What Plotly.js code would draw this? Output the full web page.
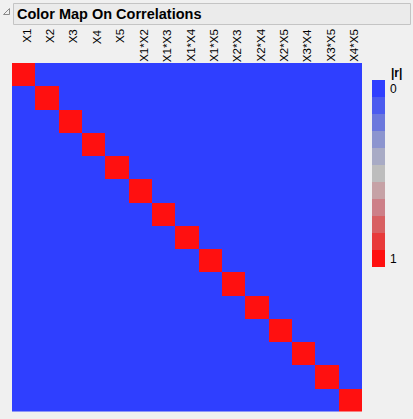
<!DOCTYPE html>
<html>
<head>
<meta charset="utf-8">
<script src="https://cdn.plot.ly/plotly-3.0.1.min.js"></script>
<style>
html,body{margin:0;padding:0;background:#F0F0F0;}
#chart{width:413px;height:419px;}
</style>
</head>
<body>
<div id="chart"></div>
<script>
// Terms (columns / rows of the correlation map)
const terms = ["X1","X2","X3","X4","X5","X1*X2","X1*X3","X1*X4","X1*X5","X2*X3","X2*X4","X2*X5","X3*X4","X3*X5","X4*X5"];

// |r| matrix (diagonal = 1, everything else ~0)
const absR = [
  [1,0,0,0,0,0,0,0,0,0,0,0,0,0,0],
  [0,1,0,0,0,0,0,0,0,0,0,0,0,0,0],
  [0,0,1,0,0,0,0,0,0,0,0,0,0,0,0],
  [0,0,0,1,0,0,0,0,0,0,0,0,0,0,0],
  [0,0,0,0,1,0,0,0,0,0,0,0,0,0,0],
  [0,0,0,0,0,1,0,0,0,0,0,0,0,0,0],
  [0,0,0,0,0,0,1,0,0,0,0,0,0,0,0],
  [0,0,0,0,0,0,0,1,0,0,0,0,0,0,0],
  [0,0,0,0,0,0,0,0,1,0,0,0,0,0,0],
  [0,0,0,0,0,0,0,0,0,1,0,0,0,0,0],
  [0,0,0,0,0,0,0,0,0,0,1,0,0,0,0],
  [0,0,0,0,0,0,0,0,0,0,0,1,0,0,0],
  [0,0,0,0,0,0,0,0,0,0,0,0,1,0,0],
  [0,0,0,0,0,0,0,0,0,0,0,0,0,1,0],
  [0,0,0,0,0,0,0,0,0,0,0,0,0,0,1]
];

// Legend levels and their colours
const legendLevels = [0,0.1,0.2,0.3,0.4,0.5,0.6,0.7,0.8,0.9,1];
const legendColors = ["#2F3FFF","#4B5BEF","#6B78DD","#8C95CF","#A8ABC5","#BDBDBD","#C6A2A6","#CD8088","#D86062","#E83A3A","#FF1010"];
const legendTickVals = [0,1];
const legendTickText = ["0","1"];

const W = 413, H = 419;
const px = v => v / W;
const py = v => (H - v) / H;

// discrete colourscale
const n = legendColors.length;
const cscale = [];
legendColors.forEach((c,i)=>{ cscale.push([i/n, c]); cscale.push([(i+1)/n, c]); });

const idx = terms.map((t,i)=>i);

const main = {
  type: "heatmap",
  z: absR,
  x: idx, y: idx,
  zmin: 0, zmax: 1,
  colorscale: cscale,
  showscale: false,
  hoverinfo: "skip",
  xaxis: "x", yaxis: "y"
};

const legend = {
  type: "heatmap",
  z: legendLevels.map(v=>[v]),
  x: [0],
  y: legendLevels,
  zmin: 0, zmax: 1,
  colorscale: cscale,
  showscale: false,
  hoverinfo: "skip",
  xaxis: "x2", yaxis: "y2"
};

const fontFam = "Liberation Sans, Arial, sans-serif";

const annotations = terms.map((t,i)=>({
  xref: "x", yref: "paper",
  x: i, y: py(27),
  xshift: 3,
  text: t, textangle: -90,
  xanchor: "center", yanchor: "top",
  showarrow: false,
  font: {family: fontFam, size: 11.5, color: "#000"}
}));

annotations.push({
  xref: "paper", yref: "paper",
  x: px(15), y: py(14.5),
  xanchor: "left", yanchor: "middle",
  text: "<b>Color Map On Correlations</b>",
  showarrow: false,
  font: {family: fontFam, size: 14.5, color: "#000"}
});
annotations.push({
  xref: "paper", yref: "paper",
  x: px(389), y: py(73),
  xanchor: "left", yanchor: "middle",
  text: "<b>|r|</b>",
  showarrow: false,
  font: {family: fontFam, size: 12, color: "#000"}
});

const shapes = [
  {type:"rect", xref:"paper", yref:"paper", x0:px(13.5), x1:px(410.5), y0:py(3.5), y1:py(24.5),
   line:{color:"#C4C4C4", width:1}, fillcolor:"#EBEBEB", layer:"below"},
  {type:"path", xref:"paper", yref:"paper",
   path:`M ${px(3.5)} ${py(14.5)} L ${px(9.5)} ${py(8.5)} L ${px(9.5)} ${py(14.5)} Z`,
   line:{color:"#8A8A8A", width:1}, fillcolor:"rgba(0,0,0,0)"}
];

const layout = {
  width: W, height: H,
  margin: {l:0, r:0, t:0, b:0},
  paper_bgcolor: "#F0F0F0",
  plot_bgcolor: "#F0F0F0",
  showlegend: false,
  xaxis: {domain:[px(12), px(362)], range:[-0.5, 14.5], showticklabels:false, ticks:"", showgrid:false, zeroline:false, showline:false, fixedrange:true},
  yaxis: {domain:[py(411.5), py(63)], range:[14.5, -0.5], showticklabels:false, ticks:"", showgrid:false, zeroline:false, showline:false, fixedrange:true},
  xaxis2: {domain:[px(372), px(385)], range:[-0.5,0.5], showticklabels:false, ticks:"", showgrid:false, zeroline:false, showline:false, anchor:"y2", fixedrange:true},
  yaxis2: {domain:[py(267), py(80)], range:[1.05,-0.05], side:"right", anchor:"x2", tickmode:"array", tickvals:legendTickVals, ticktext:legendTickText, ticks:"", showgrid:false, zeroline:false, showline:false, ticklabelstandoff:4, tickfont:{family:fontFam, size:12, color:"#000"}, fixedrange:true},
  annotations: annotations,
  shapes: shapes
};

Plotly.newPlot("chart", [main, legend], layout, {staticPlot:true, displayModeBar:false});
</script>
</body>
</html>
